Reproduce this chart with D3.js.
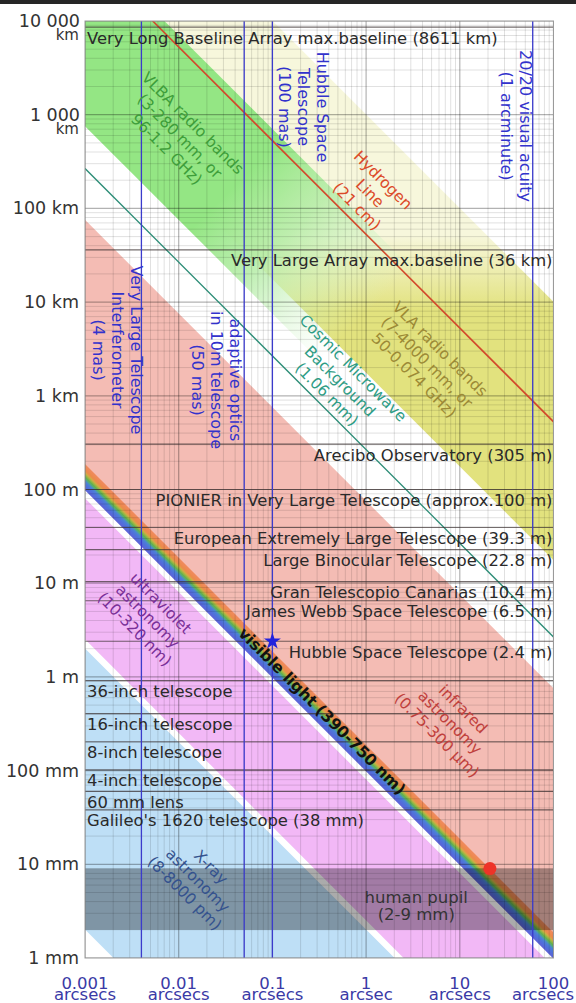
<!DOCTYPE html>
<html>
<head>
<meta charset="utf-8">
<script src="https://cdn.jsdelivr.net/npm/d3@7"></script>
<style>
  html, body { margin: 0; padding: 0; background: #fff; }
  svg { display: block; font-family: "DejaVu Sans", sans-serif; }
</style>
</head>
<body>
<svg id="chart" width="576" height="1003"></svg>
<script>
// ---- axes: angular resolution (arcseconds) and aperture / baseline (metres) ----
const xTickValues  = [0.001, 0.01, 0.1, 1, 10, 100];
const xTickNumbers = ["0.001", "0.01", "0.1", "1", "10", "100"];
const xTickUnits   = ["arcsecs", "arcsecs", "arcsecs", "arcsec", "arcsecs", "arcsecs"];

const yTickValues  = [1e7, 1e6, 1e5, 1e4, 1e3, 100, 10, 1, 0.1, 0.01, 0.001];
const yTickNumbers = ["10 000", "1 000", "100", "10", "1", "100", "10", "1", "100", "10", "1"];
const yTickUnits   = ["km", "km", "km", "km", "km", "m", "m", "m", "mm", "mm", "mm"];

// ---- spectral bands, wavelength limits in metres ----
const bandNames         = ["infrared", "ultraviolet", "X-ray", "visible", "VLA radio", "VLBA radio"];
const bandMinWavelength = [750e-9, 10e-9, 8e-12, 390e-9, 7e-3, 3e-3];
const bandMaxWavelength = [300e-6, 320e-9, 8e-9, 750e-9, 4, 0.28];
const bandLabelLines = [
  ["infrared", "astronomy", "(0.75-300 μm)"],
  ["ultraviolet", "astronomy", "(10-320 nm)"],
  ["X-ray", "astronomy", "(8-8000 pm)"],
  ["visible light (390-750 nm)"],
  ["VLA radio bands", "(7-4000 mm, or", "50-0.074 GHz)"],
  ["VLBA radio bands", "(3-280 mm, or", "96-1.2 GHz)"]
];
// label anchor of each band: [arcsec, metres]
const bandLabelAt = [[7.9, 0.33], [0.0047, 4.47], [0.0161, 0.0068], [0.34, 0.433], [4.49, 2294], [0.0103, 5.93e5]];

// ---- single wavelengths ----
const lineLabelLines  = [["Hydrogen", "Line", "(21 cm)"], ["Cosmic Microwave", "Background", "(1.06 mm)"]];
const lineWavelengths = [0.21, 1.06e-3];
const lineLabelAt     = [[1.105, 1.46e5], [0.529, 1439]];

// ---- instruments: aperture or maximum baseline in metres ----
const apertureLabels = [
  "Very Long Baseline Array max.baseline (8611 km)",
  "Very Large Array max.baseline (36 km)",
  "Arecibo Observatory (305 m)",
  "PIONIER in Very Large Telescope (approx.100 m)",
  "European Extremely Large Telescope (39.3 m)",
  "Large Binocular Telescope (22.8 m)",
  "Gran Telescopio Canarias (10.4 m)",
  "James Webb Space Telescope (6.5 m)",
  "Hubble Space Telescope (2.4 m)",
  "36-inch telescope",
  "16-inch telescope",
  "8-inch telescope",
  "4-inch telescope",
  "60 mm lens",
  "Galileo's 1620 telescope (38 mm)"
];
const apertureValues = [8611e3, 36e3, 305, 100, 39.3, 22.8, 10.4, 6.5, 2.4, 0.9144, 0.4064, 0.2032, 0.1016, 0.06, 0.038];

// ---- angular resolution markers (arcsec) ----
const resolutionLabels = [
  ["Very Large Telescope", "Interferometer", "(4 mas)"],
  ["adaptive optics", "in 10m telescope", "(50 mas)"],
  ["Hubble Space", "Telescope", "(100 mas)"],
  ["20/20 visual acuity", "(1 arcminute)"]
];
const resolutionValues = [0.004, 0.05, 0.1, 60];
const resolutionLabelAperture = [3083, 1475, 1.21e6, 7.57e5];

// ---- human pupil (metres) ----
const pupilRange = [0.002, 0.009];
const pupilLabelLines = ["human pupil", "(2-9 mm)"];
const pupilLabelTheta = 3.43;

// ---- highlighted points ----
const eyePoint    = { wavelength: 750e-9, aperture: 0.009 };
const hubblePoint = { theta: 0.1, aperture: 2.4 };

// ---- visible spectrum colour stops (wavelength in metres) ----
const spectrumWavelengths = [390e-9, 450e-9, 490e-9, 510e-9, 540e-9, 575e-9, 600e-9, 640e-9, 750e-9];

// ================= drawing =================
const ARCSEC = Math.PI / (180 * 3600);
const apertureFor = (lambda, theta) => 1.22 * lambda / (theta * ARCSEC);
const thetaFor = (lambda, D) => 1.22 * lambda / D / ARCSEC;

const plot = { left: 85, right: 553.5, top: 21, bottom: 958 };
const x = d3.scaleLog().domain([0.001, 100]).range([plot.left, plot.right]);
const y = d3.scaleLog().domain([0.001, 1e7]).range([plot.bottom, plot.top]);

const svg = d3.select("#chart");
const defs = svg.append("defs");

svg.append("rect").attr("x", 0).attr("y", 0).attr("width", 576).attr("height", 1003).attr("fill", "#fff");
svg.append("rect").attr("x", 0).attr("y", 0).attr("width", 576).attr("height", 4).attr("fill", "#262626");

defs.append("clipPath").attr("id", "plotClip")
  .append("rect")
  .attr("x", plot.left).attr("y", plot.top)
  .attr("width", plot.right - plot.left).attr("height", plot.bottom - plot.top);

// rainbow across the visible band, perpendicular to the band edges
const spectrumColours = ["#5e62d6", "#4f72dc", "#4a86d0", "#50a68e", "#64b050", "#a2b842", "#d4a848", "#ec8a4a", "#f08a62"];
{
  const t0 = 1;
  const ax = x(t0), ayLo = y(apertureFor(390e-9, t0)), ayHi = y(apertureFor(750e-9, t0));
  const d = ayLo - ayHi;
  const g = defs.append("linearGradient").attr("id", "spectrum")
    .attr("gradientUnits", "userSpaceOnUse")
    .attr("x1", ax).attr("y1", ayLo).attr("x2", ax + d / 2).attr("y2", ayLo - d / 2);
  const span = Math.log(750e-9 / 390e-9);
  spectrumWavelengths.forEach((w, i) => {
    g.append("stop").attr("offset", Math.log(w / 390e-9) / span).attr("stop-color", spectrumColours[i]);
  });
}
// VLA band: faint above the VLA maximum baseline
{
  const yb = y(36e3);
  const g = defs.append("linearGradient").attr("id", "vlaFade")
    .attr("gradientUnits", "userSpaceOnUse")
    .attr("x1", 0).attr("y1", yb - 15).attr("x2", 0).attr("y2", yb + 60);
  g.append("stop").attr("offset", 0).attr("stop-color", "#f7f7dc");
  g.append("stop").attr("offset", 1).attr("stop-color", "#e2e27e");
}
// VLBA band: fades out along the band
{
  const g = defs.append("linearGradient").attr("id", "vlbaFade")
    .attr("gradientUnits", "userSpaceOnUse")
    .attr("x1", 210).attr("y1", 210).attr("x2", 340).attr("y2", 340);
  g.append("stop").attr("offset", 0).attr("stop-color", "#94e684").attr("stop-opacity", 1);
  g.append("stop").attr("offset", 0.4).attr("stop-color", "#b4eca6").attr("stop-opacity", 0.85);
  g.append("stop").attr("offset", 1).attr("stop-color", "#d8f6d0").attr("stop-opacity", 0);
}

const bandFills = ["#f4bcb4", "#f2b8f6", "#bedff6", "url(#spectrum)", "url(#vlaFade)", "url(#vlbaFade)"];
const bandTextColours = ["#c0403c", "#7a3098", "#34528e", "#111", "#9c8a36", "#3e9e3a"];

const area = svg.append("g").attr("clip-path", "url(#plotClip)");

// band polygons between two diffraction lines
const tA = 1e-6, tB = 1e4;
bandNames.forEach((name, i) => {
  const lo = bandMinWavelength[i], hi = bandMaxWavelength[i];
  const pts = [
    [x(tA), y(apertureFor(hi, tA))], [x(tB), y(apertureFor(hi, tB))],
    [x(tB), y(apertureFor(lo, tB))], [x(tA), y(apertureFor(lo, tA))]
  ];
  area.append("path").attr("d", d3.line()(pts) + "Z").attr("fill", bandFills[i]);
});

// human pupil range
area.append("rect")
  .attr("x", plot.left).attr("width", plot.right - plot.left)
  .attr("y", y(pupilRange[1])).attr("height", y(pupilRange[0]) - y(pupilRange[1]))
  .attr("fill", "#000").attr("opacity", 0.33);

// log grid
const minorX = [], majorX = [], minorY = [], majorY = [];
for (let e = -3; e <= 2; e++) {
  majorX.push(Math.pow(10, e));
  if (e < 2) for (let k = 2; k <= 9; k++) minorX.push(k * Math.pow(10, e));
}
for (let e = -3; e <= 7; e++) {
  majorY.push(Math.pow(10, e));
  if (e < 7) for (let k = 2; k <= 9; k++) minorY.push(k * Math.pow(10, e));
}
const grid = area.append("g");
grid.selectAll(".vmin").data(minorX).join("line")
  .attr("x1", d => x(d)).attr("x2", d => x(d)).attr("y1", plot.top).attr("y2", plot.bottom)
  .attr("stroke", "#000").attr("stroke-opacity", 0.12).attr("stroke-width", 1);
grid.selectAll(".hmin").data(minorY).join("line")
  .attr("y1", d => y(d)).attr("y2", d => y(d)).attr("x1", plot.left).attr("x2", plot.right)
  .attr("stroke", "#000").attr("stroke-opacity", 0.12).attr("stroke-width", 1);
grid.selectAll(".vmaj").data(majorX).join("line")
  .attr("x1", d => x(d)).attr("x2", d => x(d)).attr("y1", plot.top).attr("y2", plot.bottom)
  .attr("stroke", "#000").attr("stroke-opacity", 0.3).attr("stroke-width", 1.2);
grid.selectAll(".hmaj").data(majorY).join("line")
  .attr("y1", d => y(d)).attr("y2", d => y(d)).attr("x1", plot.left).attr("x2", plot.right)
  .attr("stroke", "#000").attr("stroke-opacity", 0.3).attr("stroke-width", 1.2);

// single-wavelength lines
const lineColours = ["#d24a2c", "#2c8c76"];
lineWavelengths.forEach((w, i) => {
  area.append("line")
    .attr("x1", x(tA)).attr("y1", y(apertureFor(w, tA)))
    .attr("x2", x(tB)).attr("y2", y(apertureFor(w, tB)))
    .attr("stroke", lineColours[i]).attr("stroke-width", i === 0 ? 1.6 : 1.3);
});

// instrument apertures
area.selectAll(".ap").data(apertureValues).join("line")
  .attr("x1", plot.left).attr("x2", plot.right)
  .attr("y1", d => y(d)).attr("y2", d => y(d))
  .attr("stroke", "#3a3030").attr("stroke-opacity", 0.7).attr("stroke-width", 1.2);

// resolution markers
area.selectAll(".res").data(resolutionValues).join("line")
  .attr("x1", d => x(d)).attr("x2", d => x(d)).attr("y1", plot.top).attr("y2", plot.bottom)
  .attr("stroke", "#3b3bcc").attr("stroke-width", 1.3);

// plot frame
svg.append("rect")
  .attr("x", plot.left).attr("y", plot.top)
  .attr("width", plot.right - plot.left).attr("height", plot.bottom - plot.top)
  .attr("fill", "none").attr("stroke", "#9a9a9a").attr("stroke-width", 1);

// ---- labels ----
const labels = svg.append("g");

// instrument labels, hanging under their lines
const labelOnRight = [false, true, true, true, true, true, true, true, true, false, false, false, false, false, false];
apertureLabels.forEach((t, i) => {
  labels.append("text")
    .attr("x", labelOnRight[i] ? plot.right - 1 : plot.left + 2)
    .attr("y", y(apertureValues[i]) + 16.5)
    .attr("text-anchor", labelOnRight[i] ? "end" : "start")
    .attr("font-size", 16.4).attr("fill", "#2a2a2a")
    .text(t);
});

// diagonal band labels
function diagonalLabel(lines, theta, D, colour, size, weight, lh) {
  const g = labels.append("g")
    .attr("transform", `translate(${x(theta)},${y(D)}) rotate(45)`);
  const n = lines.length;
  lines.forEach((t, i) => {
    g.append("text")
      .attr("x", 0).attr("y", (i - (n - 1) / 2) * lh + size * 0.36)
      .attr("text-anchor", "middle")
      .attr("font-size", size).attr("font-weight", weight)
      .attr("fill", colour).text(t);
  });
}
bandLabelLines.forEach((lines, i) => {
  const visible = bandNames[i] === "visible";
  diagonalLabel(lines, bandLabelAt[i][0], bandLabelAt[i][1], bandTextColours[i],
    visible ? 15.7 : 15.5, visible ? "bold" : "normal", 18.5);
});
const lineTextColours = ["#dc4a28", "#2e9c84"];
lineLabelLines.forEach((lines, i) => {
  diagonalLabel(lines, lineLabelAt[i][0], lineLabelAt[i][1], lineTextColours[i], 15.5, "normal", 18.5);
});

// vertical resolution labels (first line nearest the marker)
const resolutionLabelOffset = [-10, -14, 45, -13];
resolutionLabels.forEach((lines, i) => {
  const g = labels.append("g")
    .attr("transform", `translate(${x(resolutionValues[i]) + resolutionLabelOffset[i]},${y(resolutionLabelAperture[i])}) rotate(90)`);
  lines.forEach((t, j) => {
    g.append("text").attr("x", 0).attr("y", j * 19)
      .attr("text-anchor", "middle").attr("font-size", 16)
      .attr("fill", "#3232cc").text(t);
  });
});

// pupil label
{
  const cy = y(Math.sqrt(pupilRange[0] * pupilRange[1]));
  pupilLabelLines.forEach((t, j) => {
    labels.append("text")
      .attr("x", x(pupilLabelTheta)).attr("y", cy + 4 + (j === 0 ? 0 : 17))
      .attr("text-anchor", "middle").attr("font-size", 16.5)
      .attr("fill", "#333").text(t);
  });
}

// highlighted points
svg.append("circle")
  .attr("cx", x(thetaFor(eyePoint.wavelength, eyePoint.aperture)))
  .attr("cy", y(eyePoint.aperture))
  .attr("r", 6.5).attr("fill", "#ee3328");
svg.append("path")
  .attr("d", d3.symbol().type(d3.symbolStar).size(90)())
  .attr("transform", `translate(${x(hubblePoint.theta)},${y(hubblePoint.aperture)})`)
  .attr("fill", "#2222dd");

// ---- tick labels ----
yTickValues.forEach((v, i) => {
  const ty = y(v);
  if (yTickNumbers[i].length > 4) {
    labels.append("text").attr("x", 80).attr("y", ty + 6)
      .attr("text-anchor", "end").attr("font-size", 17.5).attr("fill", "#333")
      .text(yTickNumbers[i]);
    labels.append("text").attr("x", 79).attr("y", ty + 19)
      .attr("text-anchor", "end").attr("font-size", 15).attr("fill", "#333")
      .text(yTickUnits[i]);
  } else {
    labels.append("text").attr("x", 79).attr("y", ty + 6)
      .attr("text-anchor", "end").attr("font-size", 17.5).attr("fill", "#333")
      .text(yTickNumbers[i] + " " + yTickUnits[i]);
  }
});
xTickValues.forEach((v, i) => {
  const last = i === xTickValues.length - 1;
  labels.append("text").attr("x", x(v)).attr("y", 989)
    .attr("text-anchor", "middle").attr("font-size", 16.5).attr("fill", "#3a3aa6")
    .text(xTickNumbers[i]);
  labels.append("text").attr("x", last ? 574 : x(v)).attr("y", 1000)
    .attr("text-anchor", last ? "end" : "middle").attr("font-size", 16.5).attr("fill", "#3a3aa6")
    .text(xTickUnits[i]);
});
</script>
</body>
</html>
